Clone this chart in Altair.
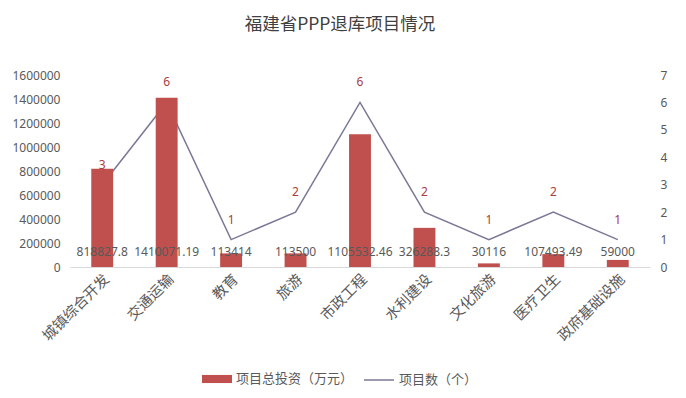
import altair as alt
import pandas as pd

categories = ["城镇综合开发", "交通运输", "教育", "旅游", "市政工程", "水利建设", "文化旅游", "医疗卫生", "政府基础设施"]
investment = [818827.8, 1410071.19, 113414, 113500, 1105532.46, 326288.3, 30116, 107493.49, 59000]
investment_labels = ["818827.8", "1410071.19", "113414", "113500", "1105532.46", "326288.3", "30116", "107493.49", "59000"]
counts = [3, 6, 1, 2, 6, 2, 1, 2, 1]
left_ticks = [0, 200000, 400000, 600000, 800000, 1000000, 1200000, 1400000, 1600000]
right_ticks = [0, 1, 2, 3, 4, 5, 6, 7]
bar_series = "项目总投资（万元）"
line_series = "项目数（个）"

df = pd.DataFrame({
    "cat": categories,
    "inv": investment,
    "invlabel": investment_labels,
    "cnt": counts,
    "s1": [bar_series] * len(categories),
    "s2": [line_series] * len(categories),
})

FONT = "Noto Sans CJK SC"
NUM = "Noto Sans"
TXT = "#595959"
RED = "#c0504d"
LABELRED = "#a93c3c"
LINE = "#7a7896"

x = alt.X("cat:N", sort=categories, title=None,
          scale=alt.Scale(paddingInner=0.66, paddingOuter=0.33),
          axis=alt.Axis(labelAngle=-45, labelFont=FONT, labelFontSize=14.5, labelColor=TXT,
                        ticks=False, domainColor="#d9d9d9", labelPadding=5))

left_axis = alt.Axis(orient="left", values=left_ticks, format="d",
                     labelFont=NUM, labelOverlap=False,
                     labelFontSize=12, labelColor=TXT, ticks=False, domain=False,
                     gridColor="#d9d9d9", labelPadding=10)
left_scale = alt.Scale(domain=[0, 1600000])

right_axis = alt.Axis(orient="right", values=right_ticks, labelFont=NUM,
                      labelOverlap=False,
                      labelFontSize=12, labelColor=TXT, ticks=False, domain=False,
                      grid=False, labelPadding=10)
right_scale = alt.Scale(domain=[0, 7])

base = alt.Chart(df)

bars = base.mark_bar(color=RED).encode(
    x=x,
    y=alt.Y("inv:Q", title=None, scale=left_scale, axis=left_axis),
    color=alt.Color("s1:N", scale=alt.Scale(domain=[bar_series], range=[RED]),
                    legend=alt.Legend(title=None, orient="none", legendX=132, legendY=289,
                                      symbolType="M-1,-0.27L1,-0.27L1,0.27L-1,0.27Z",
                                      symbolSize=900, symbolStrokeWidth=0,
                                      labelFont=FONT, labelFontSize=13, labelColor=TXT)),
)

bar_text = base.mark_text(font=NUM, fontSize=12, color=TXT, baseline="middle", dy=-15).encode(
    x=x,
    y=alt.Y(datum=0, title=None, scale=left_scale, axis=left_axis),
    text="invlabel:N",
)

left = alt.layer(bars, bar_text)

line = base.mark_line(strokeWidth=1.5).encode(
    x=x,
    y=alt.Y("cnt:Q", title=None, scale=right_scale, axis=right_axis),
    color=alt.Color("s2:N", scale=alt.Scale(domain=[line_series], range=[LINE]),
                    legend=alt.Legend(title=None, orient="none", legendX=293, legendY=289,
                                      symbolType="stroke", symbolSize=900, symbolStrokeWidth=1.5,
                                      labelFont=FONT, labelFontSize=13, labelColor=TXT)),
)

line_text = base.mark_text(font=NUM, fontSize=12, color=LABELRED, baseline="middle", dy=-20).encode(
    x=x,
    y=alt.Y("cnt:Q", title=None, scale=right_scale, axis=right_axis),
    text="cnt:Q",
)

right = alt.layer(line, line_text)

chart = alt.layer(right, left).resolve_scale(y="independent", color="independent").properties(
    width=580,
    height=192,
    autosize=alt.AutoSizeParams(type="none"),
    padding={"left": 62, "top": 67, "right": 28, "bottom": 123},
    title=alt.TitleParams("福建省PPP退库项目情况", font=FONT, fontSize=17.5, fontWeight="normal",
                          color="#404040", anchor="middle", dx=-20, offset=36),
).configure_view(stroke=None)

chart.save("out.html", embed_options={"renderer": "svg", "actions": False})
